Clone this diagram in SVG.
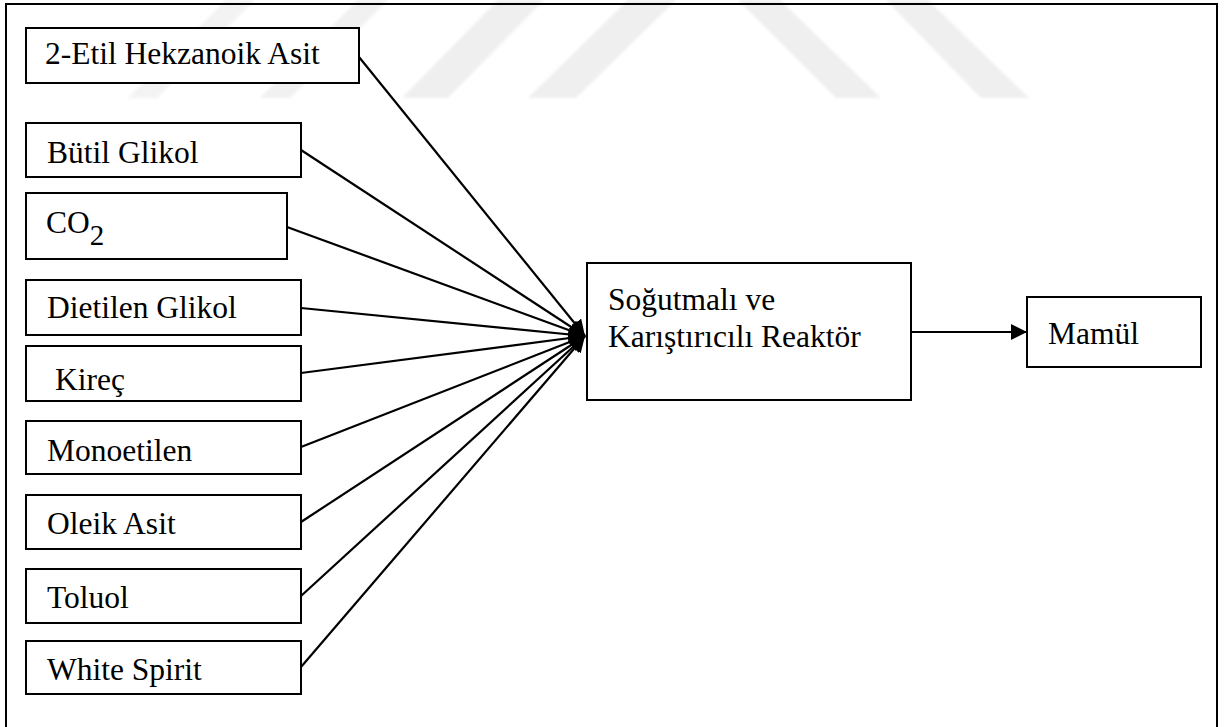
<svg xmlns="http://www.w3.org/2000/svg" width="1224" height="727" viewBox="0 0 1224 727">
  <style>
    .box { fill: #ffffff; stroke: #000000; stroke-width: 2; }
    .lbl { font-family: "Liberation Serif", "Times New Roman", serif; font-size: 31.5px; fill: #000000; }
    .wire { fill: none; stroke: #000000; stroke-width: 2.2; }
    .mark { fill: #efefef; }
  </style>
  <defs>
    <marker id="head" viewBox="0 0 16 16" refX="16" refY="8" markerWidth="16" markerHeight="16" markerUnits="userSpaceOnUse" orient="auto">
      <path d="M0,0 L16,8 L0,16 Z" fill="#000000"/>
    </marker>
    <filter id="soft" x="-10%" y="-10%" width="120%" height="120%">
      <feGaussianBlur stdDeviation="1.5"/>
    </filter>
  </defs>

  <rect x="0" y="0" width="1224" height="727" fill="#ffffff"/>

  <!-- faint background stripes -->
  <g id="stripes" filter="url(#soft)">
    <polygon class="mark" points="128,98 157,98 255,0 226,0" fill-opacity="0.75"/>
    <polygon class="mark" points="260,98 290,98 388,0 358,0" fill-opacity="0.85"/>
    <polygon class="mark" points="402,98 448,98 544,0 498,0"/>
    <polygon class="mark" points="528,98 576,98 676,0 628,0"/>
    <polygon class="mark" points="738,0 780,0 881,98 836,98"/>
    <polygon class="mark" points="886,0 928,0 1029,98 981,98"/>
  </g>

  <!-- outer frame -->
  <rect id="frame" x="6" y="4" width="1211" height="730" fill="none" stroke="#000000" stroke-width="2"/>

  <!-- connectors -->
  <g id="connectors">
    <line class="wire" x1="359" y1="57" x2="585" y2="336" marker-end="url(#head)"/>
    <line class="wire" x1="301" y1="150" x2="585" y2="336" marker-end="url(#head)"/>
    <line class="wire" x1="287" y1="227" x2="585" y2="336" marker-end="url(#head)"/>
    <line class="wire" x1="301" y1="308" x2="585" y2="336" marker-end="url(#head)"/>
    <line class="wire" x1="301" y1="373" x2="585" y2="336" marker-end="url(#head)"/>
    <line class="wire" x1="301" y1="447" x2="585" y2="336" marker-end="url(#head)"/>
    <line class="wire" x1="301" y1="522" x2="585" y2="336" marker-end="url(#head)"/>
    <line class="wire" x1="301" y1="596" x2="585" y2="336" marker-end="url(#head)"/>
    <line class="wire" x1="301" y1="667" x2="585" y2="336" marker-end="url(#head)"/>
    <line class="wire" x1="911" y1="332" x2="1027" y2="332" marker-end="url(#head)"/>
  </g>

  <!-- input materials -->
  <g id="n-2-etil-hekzanoik-asit">
    <rect class="box" x="26" y="28" width="333" height="55"/>
    <text class="lbl" x="45" y="64">2-Etil Hekzanoik Asit</text>
  </g>
  <g id="n-butil-glikol">
    <rect class="box" x="26" y="123" width="275" height="54"/>
    <text class="lbl" x="47" y="163">Bütil Glikol</text>
  </g>
  <g id="n-co2">
    <rect class="box" x="26" y="193" width="261" height="66"/>
    <text class="lbl" x="46" y="233">CO<tspan dy="12" font-size="29px">2</tspan></text>
  </g>
  <g id="n-dietilen-glikol">
    <rect class="box" x="26" y="280" width="275" height="55"/>
    <text class="lbl" x="47" y="318">Dietilen Glikol</text>
  </g>
  <g id="n-kirec">
    <rect class="box" x="26" y="346" width="275" height="55"/>
    <text class="lbl" x="55" y="390">Kireç</text>
  </g>
  <g id="n-monoetilen">
    <rect class="box" x="26" y="421" width="275" height="53"/>
    <text class="lbl" x="47" y="461">Monoetilen</text>
  </g>
  <g id="n-oleik-asit">
    <rect class="box" x="26" y="495" width="275" height="54"/>
    <text class="lbl" x="47" y="534">Oleik Asit</text>
  </g>
  <g id="n-toluol">
    <rect class="box" x="26" y="569" width="275" height="54"/>
    <text class="lbl" x="47" y="608">Toluol</text>
  </g>
  <g id="n-white-spirit">
    <rect class="box" x="26" y="641" width="275" height="53"/>
    <text class="lbl" x="47" y="680">White Spirit</text>
  </g>

  <!-- reactor -->
  <g id="n-reaktor">
    <rect class="box" x="587" y="263" width="324" height="137"/>
    <text class="lbl" x="608" y="310">Soğutmalı ve</text>
    <text class="lbl" x="608" y="347">Karıştırıcılı Reaktör</text>
  </g>

  <!-- product -->
  <g id="n-mamul">
    <rect class="box" x="1027" y="297" width="174" height="70"/>
    <text class="lbl" x="1048" y="344">Mamül</text>
  </g>
</svg>
